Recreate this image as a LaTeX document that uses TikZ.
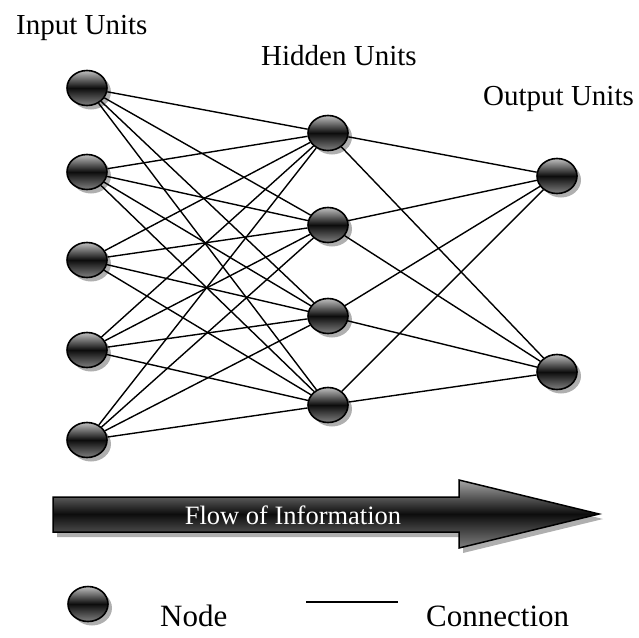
\documentclass[tikz,border=0pt]{standalone}
\usepackage{fontspec}
\setmainfont{Liberation Serif}
\usetikzlibrary{shapes.geometric,shadows}
\begin{document}
\begin{tikzpicture}[x=1pt,y=-1pt,
  unit/.style={ellipse, draw=black, line width=1.6pt, minimum width=40pt, minimum height=35pt, inner sep=0pt,
    top color=black!25, bottom color=black!50, middle color=black!95,
    drop shadow={shadow xshift=4pt, shadow yshift=-4pt, fill=black!35, opacity=0.9}},
  conn/.style={line width=1.4pt, black},
  lbl/.style={font=\fontsize{29}{30}\selectfont, anchor=base west, inner sep=0pt},
  leg/.style={font=\fontsize{31}{32}\selectfont, anchor=base west, inner sep=0pt}]
\useasboundingbox (0,0) rectangle (639,637);

% labels
\node[lbl] (tin) at (16,34) {Input Units};
\node[lbl] (thid) at (261,65) {Hidden Units};
\node[lbl] (tout) at (483,105) {Output Units};

% input units
\node[unit] (i1) at (87,88) {};
\node[unit] (i2) at (87,172) {};
\node[unit] (i3) at (87,260) {};
\node[unit] (i4) at (87,350) {};
\node[unit] (i5) at (87,440) {};
% hidden units
\node[unit] (h1) at (328,133) {};
\node[unit] (h2) at (328,225) {};
\node[unit] (h3) at (328,316) {};
\node[unit] (h4) at (328,405) {};
% output units
\node[unit] (o1) at (557,176) {};
\node[unit] (o2) at (557,372) {};

\foreach \i in {1,...,5}{
  \foreach \h in {1,...,4}{
    \draw[conn] (i\i) -- (h\h);
  }
}
\foreach \h in {1,...,4}{
  \foreach \o in {1,2}{
    \draw[conn] (h\h) -- (o\o);
  }
}

% flow arrow
\fill[black!35, opacity=0.9] (57,502) -- (463,502) -- (463,485) -- (603,519) -- (463,553) -- (463,537) -- (57,537) -- cycle;
\draw[line width=1.5pt, top color=black!35, bottom color=black!50, middle color=black!95]
  (53,497) -- (459,497) -- (459,480) -- (599,514) -- (459,548) -- (459,532) -- (53,532) -- cycle;
\node[font=\fontsize{26.5}{27}\selectfont, text=white, anchor=base, inner sep=0pt] (flow) at (293,524) {Flow of Information};

% legend
\node[unit] (lnode) at (88,604) {};
\node[leg] (lnodet) at (160,626) {Node};
\coordinate (la) at (306,602);
\coordinate (lb) at (398,602);
\draw[conn] (la) -- (lb);
\node[leg] (lconn) at (426,626) {Connection};
\end{tikzpicture}
\end{document}
